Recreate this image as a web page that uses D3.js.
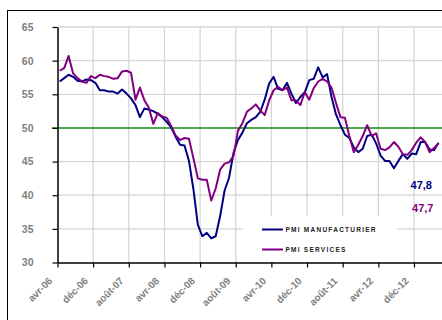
<!DOCTYPE html>
<html>
<head>
<meta charset="utf-8">
<script src="https://cdn.jsdelivr.net/npm/d3@7"></script>
<style>
  body { margin: 0; background: #fff; }
  svg { display: block; font-family: "Liberation Sans", Arial, sans-serif; }
</style>
</head>
<body>
<div id="chart"></div>
<script>
// monthly values, avr-06 .. mai-13
const pmiManufacturier = [
  56.9, 57.4, 57.9, 57.6, 57.0, 56.9, 57.2, 57.1, 56.7, 55.6,
  55.6, 55.4, 55.4, 55.1, 55.7, 55.1, 54.4, 53.4, 51.6, 52.9,
  52.7, 52.5, 52.1, 51.6, 50.9, 50.1, 48.7, 47.5, 47.4, 45.1,
  40.9, 35.6, 33.9, 34.4, 33.6, 33.9, 36.9, 40.7, 42.6, 46.3,
  48.2, 49.3, 50.7, 51.2, 51.6, 52.4, 54.2, 56.6, 57.6, 55.8,
  55.6, 56.7, 55.1, 53.7, 54.6, 55.3, 57.1, 57.3, 59.0, 57.5,
  58.0, 54.6, 52.0, 50.4, 49.0, 48.5, 47.1, 46.4, 46.9, 48.8,
  49.0, 47.7, 45.9, 45.1, 45.1, 44.0, 45.1, 46.1, 45.4, 46.2,
  46.1, 47.9, 47.9, 46.8, 46.7, 47.8
];
const pmiServices = [
  58.5, 58.9, 60.7, 58.1, 57.4, 56.9, 56.7, 57.7, 57.4, 57.9,
  57.7, 57.6, 57.3, 57.4, 58.4, 58.5, 58.2, 54.2, 56.0, 54.1,
  53.0, 50.6, 52.2, 51.7, 51.5, 50.3, 48.9, 48.2, 48.5, 48.4,
  45.5, 42.5, 42.3, 42.3, 39.2, 41.0, 43.8, 44.7, 44.9, 45.8,
  49.6, 50.7, 52.4, 52.9, 53.5, 52.6, 51.9, 54.1, 55.6, 56.1,
  55.6, 56.0, 54.1, 54.1, 53.4, 55.3, 54.2, 55.9, 56.9, 57.3,
  56.9, 56.0, 53.7, 51.6, 51.5, 48.8, 46.4, 47.5, 48.8, 50.4,
  48.8, 49.2, 46.9, 46.7, 47.1, 47.9, 47.2, 46.1, 46.0, 46.7,
  47.8, 48.6, 47.9, 46.4, 47.0, 47.7
];
const tickMonths = [0, 8, 16, 24, 32, 40, 48, 56, 64, 72, 80];
const tickLabels = ["avr-06", "déc-06", "août-07", "avr-08", "déc-08", "août-09",
                    "avr-10", "déc-10", "août-11", "avr-12", "déc-12"];
const yTicks = [30, 35, 40, 45, 50, 55, 60, 65];
const seriesNames = ["PMI MANUFACTURIER", "PMI SERVICES"];
const seriesColors = ["#000080", "#800080"];

const width = 442, height = 320;

const svg = d3.select("#chart")
  .append("svg")
  .attr("width", width)
  .attr("height", height);

// chart frame
svg.append("rect")
  .attr("x", 7.5).attr("y", 10.5)
  .attr("width", 440).attr("height", 320)
  .attr("fill", "#fff")
  .attr("stroke", "#000")
  .attr("stroke-width", 1);

// Scales
const xScale = d3.scaleLinear()
  .domain([0, 87])
  .range([57.5, 57.5 + 87 * 4.456]);

const yScale = d3.scaleLinear()
  .domain([30, 65])
  .range([262.5, 27]);

// grid
svg.append("g")
  .selectAll("line")
  .data(yTicks.filter(d => d !== 30 && d !== 50))
  .enter()
  .append("line")
  .attr("x1", xScale(0)).attr("x2", width)
  .attr("y1", d => yScale(d)).attr("y2", d => yScale(d))
  .attr("stroke", "#d6d6d6")
  .attr("stroke-width", 1.3);

svg.append("g")
  .selectAll("line")
  .data(tickMonths.slice(1))
  .enter()
  .append("line")
  .attr("x1", d => xScale(d)).attr("x2", d => xScale(d))
  .attr("y1", yScale(65)).attr("y2", yScale(30))
  .attr("stroke", "#d6d6d6")
  .attr("stroke-width", 1.3);

// legend background hides the grid
svg.append("rect")
  .attr("x", 243).attr("y", 216)
  .attr("width", 154).attr("height", 46)
  .attr("fill", "#fff");

// 50 line
svg.append("line")
  .attr("x1", 52).attr("x2", width)
  .attr("y1", yScale(50)).attr("y2", yScale(50))
  .attr("stroke", "#138a13")
  .attr("stroke-width", 1.5);

// Axes
const yAxis = svg.append("g")
  .attr("transform", `translate(${xScale(0)},0)`)
  .call(d3.axisLeft(yScale).tickValues(yTicks).tickSize(5).tickPadding(19).tickSizeOuter(0));

const xAxis = svg.append("g")
  .attr("transform", `translate(0,${yScale(30)})`)
  .call(d3.axisBottom(xScale).tickValues(tickMonths).tickSize(5).tickSizeOuter(0)
    .tickFormat((d, i) => tickLabels[i]));

[yAxis, xAxis].forEach(ax => {
  ax.select(".domain").attr("stroke", "#000").attr("stroke-width", 1.5);
  ax.selectAll(".tick line").attr("stroke", "#000").attr("stroke-width", 1.2);
  ax.selectAll("text")
    .attr("fill", "#808080")
    .style("font-weight", "bold")
    .style("font-family", "'Liberation Sans', Arial, sans-serif");
});
yAxis.selectAll("text").style("font-size", "10.5px");
xAxis.selectAll("text")
  .style("font-size", "10px")
  .attr("text-anchor", "end")
  .attr("dy", null)
  .attr("y", null)
  .attr("transform", "translate(-5,19) rotate(-45)");

// lines
const line = d3.line()
  .x((d, i) => xScale(i + 0.5))
  .y(d => yScale(d));

[pmiManufacturier, pmiServices].forEach((s, k) => {
  svg.append("path")
    .datum(s)
    .attr("d", line)
    .attr("fill", "none")
    .attr("stroke", seriesColors[k])
    .attr("stroke-width", 2)
    .attr("stroke-linejoin", "round");
});

// last values
svg.append("text")
  .attr("x", 432).attr("y", 188.5)
  .attr("text-anchor", "end")
  .attr("fill", seriesColors[0])
  .style("font-size", "11px").style("font-weight", "bold")
  .text(d3.format(".1f")(pmiManufacturier[pmiManufacturier.length - 1]).replace(".", ","));

svg.append("text")
  .attr("x", 433.5).attr("y", 211.5)
  .attr("text-anchor", "end")
  .attr("fill", seriesColors[1])
  .style("font-size", "11px").style("font-weight", "bold")
  .text(d3.format(".1f")(pmiServices[pmiServices.length - 1]).replace(".", ","));

// legend
const legend = svg.append("g");
seriesNames.forEach((name, k) => {
  const ly = 229.5 + k * 20;
  legend.append("line")
    .attr("x1", 262).attr("x2", 283)
    .attr("y1", ly).attr("y2", ly)
    .attr("stroke", seriesColors[k])
    .attr("stroke-width", 2);
  legend.append("text")
    .attr("x", 285.5).attr("y", ly + 2.3)
    .attr("fill", "#222")
    .style("font-size", "6.5px")
    .style("font-weight", "bold")
    .style("letter-spacing", "1.25px")
    .text(name);
});
</script>
</body>
</html>
